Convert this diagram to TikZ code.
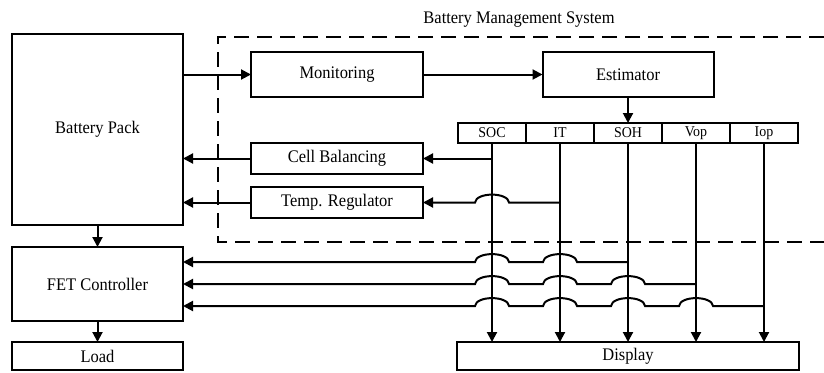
\documentclass[tikz,border=0pt]{standalone}
\usepackage{fontspec}
\setmainfont{Liberation Serif}[FakeStretch=0.93]
\usetikzlibrary{arrows.meta}
\newcommand\hop[2]{-- ([xshift=17pt]#1.south |- #2) .. controls +(-1,-10.5) and +(1,-10.5) .. ([xshift=-17pt]#1.south |- #2)}
\begin{document}
\begin{tikzpicture}[x=1pt,y=-1pt,
  box/.style={draw,line width=2pt,inner sep=0pt,outer sep=0pt,font=\fontsize{17.7}{19}\selectfont},
  cell/.style={draw,line width=2pt,inner sep=0pt,outer sep=0pt,minimum width=68pt,minimum height=20pt,font=\fontsize{15}{16}\selectfont},
  arr/.style={line width=2pt,-{Triangle[length=10pt,width=10pt]}},
  bms/.style={line width=2pt,dash pattern=on 15pt off 8pt}]
\useasboundingbox (0,0) rectangle (824,372);
% dashed BMS region
\draw[bms] (824,37) -- (218,37) -- (218,242) -- (824,242);
\node[font=\fontsize{17.7}{19}\selectfont] (title) at (519,20) {Battery Management System};
% boxes
\node[box,minimum width=171pt,minimum height=191pt] (bp) at (97.5,129.5) {Battery Pack};
\node[box,minimum width=171pt,minimum height=74pt] (fet) at (97.5,284) {FET Controller};
\node[box,minimum width=171pt,minimum height=28pt] (load) at (97.5,356) {Load};
\node[box,minimum width=172pt,minimum height=45pt] (mon) at (337,74.5) {Monitoring};
\node[box,minimum width=171pt,minimum height=45pt] (est) at (628,74.5) {Estimator};
\node[box,minimum width=172pt,minimum height=31pt] (cb) at (337,158.5) {Cell Balancing};
\node[box,minimum width=172pt,minimum height=31pt] (tr) at (337,202.5) {Temp. Regulator};
\node[cell] (soc) at (492,133) {SOC};
\node[cell] (it) at (560,133) {IT};
\node[cell] (soh) at (628,133) {SOH};
\node[cell] (vop) at (696,133) {Vop};
\node[cell] (iop) at (764,133) {Iop};
\node[box,minimum width=342pt,minimum height=28pt] (disp) at (628,356) {Display};
% coordinates for FET inputs
\coordinate (f1) at ([yshift=22pt]fet.east);
\coordinate (f2) at (fet.east);
\coordinate (f3) at ([yshift=-22pt]fet.east);
% arrows
\draw[arr] (bp.east |- mon.west) -- (mon.west);
\draw[arr] (mon.east) -- (est.west);
\draw[arr] (est.south) -- (soh.north);
\draw[arr] (cb.west) -- (bp.east |- cb.west);
\draw[arr] (tr.west) -- (bp.east |- tr.west);
\draw[arr] (bp.south) -- (fet.north);
\draw[arr] (fet.south) -- (load.north);
\foreach \c in {soc,it,soh,vop,iop}{
  \draw[arr] (\c.south) -- (\c.south |- disp.north);
}
\draw[arr] (soc.south |- cb.east) -- (cb.east);
\draw[arr] (it.south |- tr.east) \hop{soc}{tr.east} -- (tr.east);
\draw[arr] (soh.south |- f1) \hop{it}{f1} \hop{soc}{f1} -- (f1);
\draw[arr] (vop.south |- f2) \hop{soh}{f2} \hop{it}{f2} \hop{soc}{f2} -- (f2);
\draw[arr] (iop.south |- f3) \hop{vop}{f3} \hop{soh}{f3} \hop{it}{f3} \hop{soc}{f3} -- (f3);
\end{tikzpicture}
\end{document}
